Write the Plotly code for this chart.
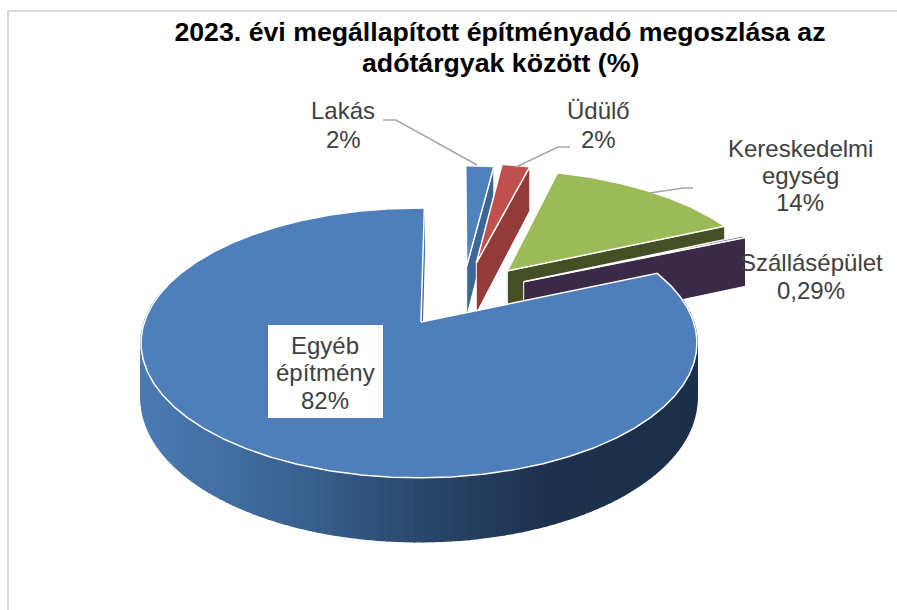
import numpy as np
import plotly.graph_objects as go

# ---------- data ----------
categories = ["Lakás", "Üdülő", "Kereskedelmi egység", "Szállásépület", "Egyéb építmény"]
values = [2, 2, 14, 0.29, 82]
value_labels = ["2%", "2%", "14%", "0,29%", "82%"]
label_lines = [["Lakás", "2%"], ["Üdülő", "2%"], ["Kereskedelmi", "egység", "14%"],
               ["Szállásépület", "0,29%"], ["Egyéb", "építmény", "82%"]]
title_line_1 = "2023. évi megállapított építményadó megoszlása az"
title_line_2 = "adótárgyak között (%)"

# ---------- 3-D look (styles and camera, not data) ----------
top_colors = ["#4f81bd", "#c0504d", "#9bbb59", "#604a7b", "#4e7fba"]
side_colors = ["#3b6695", "#933b38", "#444f25", "#3a2a48", "#3a6a9c"]
explode_u = [0.186, 0.224, 0.342, 0.400, 0.0]
explode_v = [0.455, 0.480, 0.412, 0.320, 0.0]
apex_extra_u = [0.0, 0.0, 0.0, 0.0, 0.007]
ROTATION = 1.3
CX, CY, BX, AY, PERSP, DEPTH = 419, 322, 274.6, 131.7, 0.155, 54
label_x = [343, 598, 800, 811, 325]
label_y = [[110, 139], [110, 139], [148, 175, 202], [262, 290], [345, 372, 400]]
leaders = [([383, 396, 477], [120, 120, 165]),
           ([516, 558, 570], [167, 147, 147]),
           ([650, 683, 693], [193, 188, 188])]


def project(u, v, h=0.0):
    w = 1 + PERSP * np.asarray(v, dtype=float)
    return CX + BX * np.asarray(u) / w, CY - AY * np.asarray(v) / w + DEPTH * h / w


def ring(theta, idx):
    t = np.radians(theta + ROTATION)
    return explode_u[idx] + np.sin(t), explode_v[idx] + np.cos(t)


def poly(fig, u, v, h, color, name, line_color=None, line_width=0.0):
    x, y = project(np.asarray(u), np.asarray(v), np.asarray(h))
    fig.add_trace(go.Scatter(x=np.append(x, x[0]), y=np.append(y, y[0]), mode="lines",
                             fill="toself", fillcolor=color, name=name, hoverinfo="name",
                             line=dict(color=line_color or color, width=line_width)))


def lerp_side(px):
    stops = [(141, (76, 124, 180)), (300, (58, 98, 145)), (419, (42, 72, 108)),
             (545, (30, 50, 78)), (700, (29, 48, 74))]
    xs = [s[0] for s in stops]
    return "rgb(%d,%d,%d)" % tuple(np.interp(px, xs, [s[1][i] for s in stops]) for i in range(3))


fig = go.Figure()
total = sum(values)
edges = np.concatenate([[0], np.cumsum(values)]) / total * 360

for i in range(len(values)):
    a0, a1 = edges[i], edges[i + 1]
    th = np.linspace(a0, a1, max(3, int(a1 - a0) * 2))
    u, v = ring(th, i)
    apex_u, apex_v = explode_u[i] + apex_extra_u[i], explode_v[i]
    # radial wall at the clockwise end of the slice
    tip_u, tip_v = ring(a1, i)
    poly(fig, [apex_u, tip_u, tip_u, apex_u], [apex_v, tip_v, tip_v, apex_v], [0, 0, 1, 1],
         side_colors[i], categories[i], "#ffffff" if i < 4 else side_colors[i], 1.0)
    # outer cylinder wall of the large slice, shaded along x
    if i == 4:
        wall = th[np.cos(np.radians(th + ROTATION)) < 0.25]
        wall = np.linspace(wall[0], wall[-1], 130)
        for t0, t1 in zip(wall[:-1], wall[1:]):
            su, sv = ring(np.array([t0, t1]), i)
            px, _ = project(su, sv)
            poly(fig, [su[0], su[1], su[1], su[0]], [sv[0], sv[1], sv[1], sv[0]], [0, 0, 1, 1],
                 lerp_side(px.mean()), categories[i], None, 1.5)
    # top face
    poly(fig, np.r_[apex_u, u], np.r_[apex_v, v], np.zeros(len(u) + 1),
         top_colors[i], categories[i], "#ffffff", 1.5)

for lx, ly in leaders:
    fig.add_trace(go.Scatter(x=lx, y=ly, mode="lines", hoverinfo="skip",
                             line=dict(color="#a6a6a6", width=1.5)))

annotations = [dict(x=500, y=63, text=title_line_2, showarrow=False, xanchor="center",
                    yanchor="middle", xref="x", yref="y",
                    font=dict(family="Liberation Sans", size=26.7, color="#000000", weight="bold"))]
for lines, xc, ys in zip(label_lines, label_x, label_y):
    for line, yc in zip(lines, ys):
        annotations.append(dict(x=xc, y=yc, text=line, showarrow=False, xanchor="center",
                                yanchor="middle", xref="x", yref="y",
                                font=dict(family="Liberation Sans", size=24, color="#404040")))

shapes = [
    dict(type="rect", x0=8, y0=11, x1=910, y1=630, line=dict(color="#d9d9d9", width=2),
         fillcolor="rgba(0,0,0,0)", layer="below"),
    dict(type="rect", x0=268, y0=325, x1=383, y1=418, line=dict(width=0), fillcolor="#ffffff",
         layer="above"),
]

fig.update_layout(
    width=897, height=610, autosize=False, showlegend=False,
    margin=dict(l=0, r=0, t=0, b=0), paper_bgcolor="#ffffff", plot_bgcolor="#ffffff",
    xaxis=dict(range=[0, 897], visible=False, fixedrange=True),
    yaxis=dict(range=[610, 0], visible=False, fixedrange=True),
    title=dict(text=title_line_1, x=500 / 897, xanchor="center", y=1 - 32 / 610, yanchor="middle",
               font=dict(family="Liberation Sans", size=26.7, color="#000000", weight="bold")),
    annotations=annotations, shapes=shapes,
)
fig.write_html("out.html", config=dict(displayModeBar=False),
               post_script="document.body.style.margin='0';document.body.style.overflow='hidden';")
